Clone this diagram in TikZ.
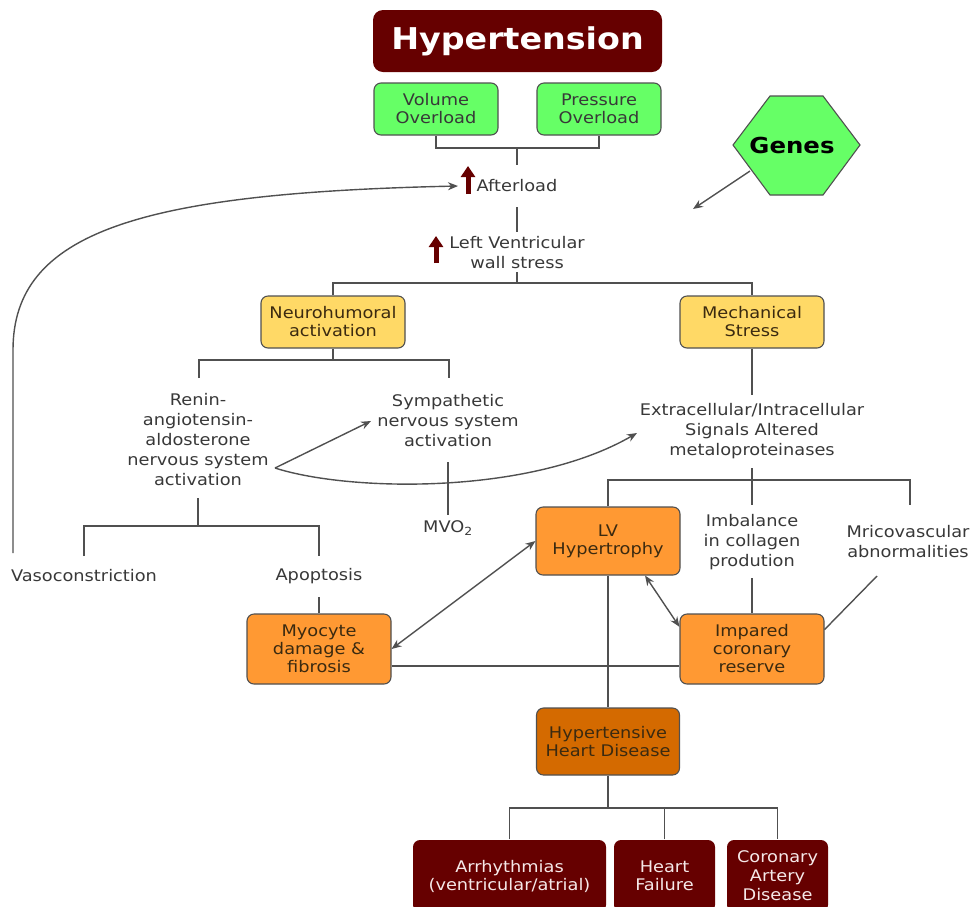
\documentclass[tikz,border=0pt]{standalone}
\usepackage{fontspec}
\setmainfont{DejaVu Sans}[FakeStretch=1.11]
\usetikzlibrary{arrows.meta}
\definecolor{dred}{HTML}{660000}
\definecolor{gfill}{HTML}{66FF66}
\definecolor{yfill}{HTML}{FFD966}
\definecolor{ofill}{HTML}{FF9933}
\definecolor{hfill}{HTML}{D46A00}
\definecolor{lgray}{HTML}{505050}
\definecolor{tgray}{HTML}{383838}
\definecolor{btext}{HTML}{3B2A10}
\definecolor{wtext}{HTML}{F5E8E8}
\begin{document}
\begin{tikzpicture}[x=1pt,y=-1pt,
  ln/.style={draw=lgray, line width=1.4pt},
  arr/.style={ln, -{Stealth[length=10pt,width=8pt]}},
  dbl/.style={ln, {Stealth[length=10pt,width=8pt]}-{Stealth[length=10pt,width=8pt]}},
  box/.style={draw=lgray, line width=1.1pt, rounded corners=7pt, align=center,
    font=\fontsize{16}{18}\selectfont, text=btext, inner sep=0pt,
    minimum width=144pt, minimum height=52pt},
  gbox/.style={box, fill=gfill, minimum width=124pt, text=tgray},
  ybox/.style={box, fill=yfill},
  obox/.style={box, fill=ofill, minimum height=70pt},
  rbox/.style={box, fill=dred, draw=none, text=wtext, minimum height=72pt},
  txt/.style={align=center, font=\fontsize{16}{20}\selectfont, text=tgray, inner sep=0pt},
  uparr/.style={draw=dred, line width=5pt, -{Triangle[length=11pt,width=14pt]}}
]
\clip (0,0) rectangle (973,906);
\useasboundingbox (0,0) rectangle (973,906);

% boxes
\node[box, fill=dred, draw=none, text=white, minimum width=289pt, minimum height=62pt,
  rounded corners=10pt, font=\bfseries\fontsize{30}{32}\selectfont] (hyp) at (517.5,41) {Hypertension};
\node[gbox] (vol) at (436,109) {Volume\\Overload};
\node[gbox] (pres) at (599,109) {Pressure\\Overload};
\node[txt] (after) at (517,186) {Afterload};
\node[txt] (lvws) at (517,253) {Left Ventricular\\wall stress};
\node[ybox] (neuro) at (333,322) {Neurohumoral\\activation};
\node[ybox] (mech) at (752,322) {Mechanical\\Stress};
\node[txt] (renin) at (198,440) {Renin-\\angiotensin-\\aldosterone\\nervous system\\activation};
\node[txt] (symp) at (448,421) {Sympathetic\\nervous system\\activation};
\node[txt] (mvo) at (448,528) {MVO\textsubscript{2}};
\node[txt] (vaso) at (84,576) {Vasoconstriction};
\node[txt] (apop) at (319,576) {Apoptosis};
\node[txt] (extra) at (752,431) {Extracellular/Intracellular\\Signals Altered\\metaloproteinases};
\node[obox, minimum height=68pt] (lv) at (608,541) {LV\\Hypertrophy};
\node[txt] (imbal) at (752,542) {Imbalance\\in collagen\\prodution};
\node[txt] (micro) at (908,542) {Mricovascular\\abnormalities};
\node[obox] (myo) at (319,649) {Myocyte\\damage \&\\fibrosis};
\node[obox] (imp) at (752,649) {Impared\\coronary\\reserve};
\node[box, fill=hfill, minimum width=143pt, minimum height=67pt] (hhd) at (608,741.5) {Hypertensive\\Heart Disease};
\node[rbox, minimum width=193pt] (arr) at (509.5,876) {Arrhythmias\\(ventricular/atrial)};
\node[rbox, minimum width=101pt] (hf) at (664.5,876) {Heart\\Failure};
\node[rbox, minimum width=101pt, font=\fontsize{16}{19}\selectfont] (cad) at (777.5,876) {Coronary\\Artery\\Disease};

% genes hexagon
\filldraw[fill=gfill, draw=lgray, line width=1.1pt] (733,145) -- (770,96) -- (823,96) -- (860,145) -- (823,195) -- (770,195) -- cycle;
\node[font=\bfseries\fontsize{22}{24}\selectfont, text=black] (genes) at (792,145) {Genes};
\coordinate (gs) at (750,171);
\coordinate (gt) at (693,209);
\draw[arr] (gs) -- (gt);

% up arrows
\coordinate (ua1) at (468,194); \coordinate (ua2) at (468,166);
\draw[uparr] (ua1) -- (ua2);
\coordinate (ub1) at (436,263); \coordinate (ub2) at (436,236);
\draw[uparr] (ub1) -- (ub2);

% connectors top
\coordinate (j1) at (517,148);
\coordinate (a1t) at (517,165);
\draw[ln] (vol.south) |- (j1) -| (pres.south);
\draw[ln] (j1) -- (a1t);
\coordinate (l2t) at (517,207); \coordinate (l2b) at (517,232);
\draw[ln] (l2t) -- (l2b);
\coordinate (l3) at (517,272); \coordinate (j2) at (517,283);
\draw[ln] (l3) -- (j2);
\draw[ln] (neuro.north) |- (j2) -| (mech.north);

% neuro branch
\coordinate (j3) at (333,360);
\coordinate (r1) at (199,378); \coordinate (s1) at (449,378);
\draw[ln] (neuro.south) -- (j3);
\draw[ln] (r1) |- (j3) -| (s1);
\coordinate (rb) at (198,498); \coordinate (j4) at (198,526);
\coordinate (v1) at (84,556); \coordinate (ap1) at (319,556);
\draw[ln] (rb) -- (j4);
\draw[ln] (v1) |- (j4) -| (ap1);
\coordinate (ap2) at (319,597);
\draw[ln] (ap2) -- (myo.north);
\coordinate (sb) at (448,462); \coordinate (mt) at (448,515);
\draw[ln] (sb) -- (mt);

% renin arrows
\coordinate (rs) at (275,468);
\coordinate (st) at (371,421);
\coordinate (et) at (637,433);
\draw[arr] (rs) -- (st);
\draw[arr] (rs) .. controls (350,492) and (530,495) .. (et);

% big loop to afterload
\coordinate (vs) at (13,553);
\coordinate (vm) at (13,350);
\coordinate (atip) at (458,186);
\draw[arr] (vs) -- (vm) .. controls (13,232) and (140,193) .. (atip);

% mechanical branch
\coordinate (et1) at (752,395);
\draw[ln] (mech.south) -- (et1);
\coordinate (eb) at (752,468); \coordinate (j5) at (752,480);
\coordinate (m1) at (910,505); \coordinate (i1) at (752,505);
\draw[ln] (eb) -- (j5);
\draw[ln] (lv.north) |- (j5) -| (m1);
\draw[ln] (j5) -- (i1);
\coordinate (ib) at (752,578);
\draw[ln] (ib) -- (imp.north);
\coordinate (mb) at (877,576);
\draw[ln] (mb) -- (imp.15);

% middle
\coordinate (dot) at (608,666);
\draw[ln] (lv.south) -- (hhd.north);
\draw[ln] (myo.east |- dot) -- (imp.west |- dot);
\fill[lgray] (dot) circle (1.8pt);
\draw[dbl] (myo.east) -- (lv.west);
\draw[dbl] (lv.-43) -- (imp.163.5);

% bottom
\coordinate (j6) at (608,808);
\draw[ln] (hhd.south) -- (j6);
\draw[ln] (arr.north) |- (j6) -| (cad.north);
\draw[ln] (hf.north) -- (hf.north |- j6);
\end{tikzpicture}
\end{document}
